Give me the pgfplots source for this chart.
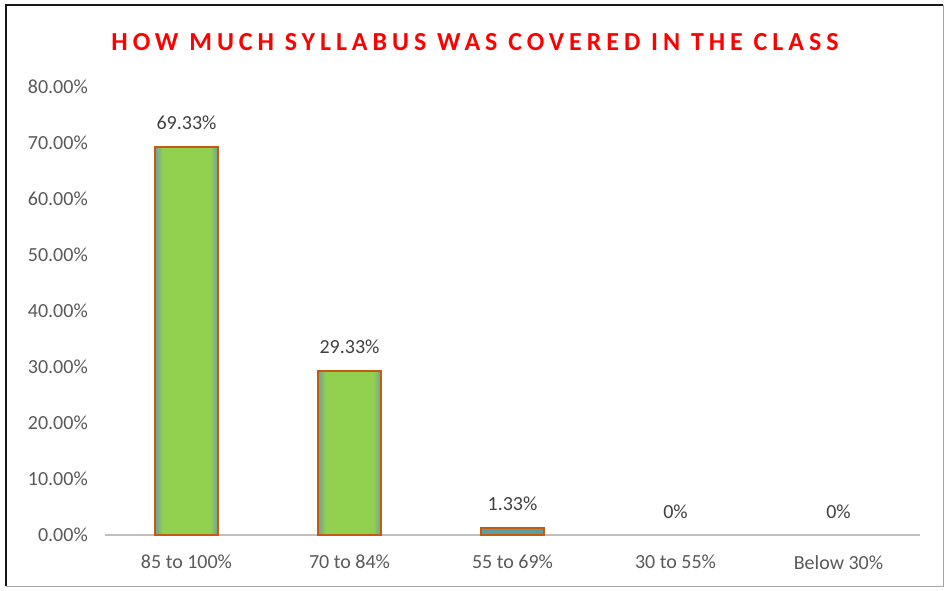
\documentclass[border=0pt]{standalone}
\usepackage{fontspec}
\setmainfont{Carlito}
\newfontfamily\titlefont[LetterSpace=19]{Carlito}
\usepackage{pgfplots}
\pgfplotsset{compat=1.18}
\definecolor{ticklab}{HTML}{595959}
\definecolor{datalab}{HTML}{404040}
\definecolor{bargreen}{HTML}{92D050}
\definecolor{baredge}{HTML}{6F9F9F}
\definecolor{barteal}{HTML}{5E9E9C}
\definecolor{barborder}{HTML}{C55A11}
\definecolor{axisgray}{HTML}{BFBFBF}
\pgfdeclarehorizontalshading{barshade}{100bp}{color(0bp)=(baredge); color(25bp)=(baredge); color(31bp)=(bargreen); color(69bp)=(bargreen); color(75bp)=(baredge); color(100bp)=(baredge)}
\begin{document}
\begin{tikzpicture}
\begin{axis}[
  scale only axis,
  width=815pt, height=448pt,
  xmin=-0.5, xmax=4.5, ymin=0, ymax=80,
  axis x line*=bottom, axis y line*=left,
  x axis line style={draw=axisgray, line width=2pt, -},
  y axis line style={draw=none},
  major tick length=0pt,
  xtick={0,1,2,3,4},
  xticklabels={85 to 100\%, 70 to 84\%, 55 to 69\%, 30 to 55\%, Below 30\%},
  ytick={0,10,...,80},
  /pgf/number format/assume math mode=true,
  yticklabel={\pgfmathprintnumber[fixed,fixed zerofill,precision=2]{\tick}\%},
  ticklabel style={font=\fontsize{20}{24}\selectfont, text=ticklab},
  yticklabel style={inner sep=0pt, xshift=-17pt},
  xticklabel style={inner sep=0pt, anchor=north, yshift=-20pt},
  ybar, bar width=63pt,
  point meta=explicit symbolic,
  nodes near coords,
  nodes near coords style={font=\fontsize{20}{24}\selectfont, text=datalab, anchor=south, inner sep=0pt, yshift=16pt},
  clip=false,
]
\addplot[bar shift=0pt, draw=barborder, line width=2pt, shading=barshade, shading angle=0]
  coordinates {(0,69.33) [69.33\%]};
\addplot[bar shift=0pt, draw=barborder, line width=2pt, shading=barshade, shading angle=0]
  coordinates {(1,29.33) [29.33\%]};
\addplot[bar shift=0pt, draw=barborder, line width=2pt, fill=barteal]
  coordinates {(2,1.33) [1.33\%]};
\addplot[bar shift=0pt, draw=none, fill=none]
  coordinates {(3,0) [0\%] (4,0) [0\%]};
\coordinate (O) at (rel axis cs:0,0);
\end{axis}
\pgfresetboundingbox
\begin{scope}[shift={(O)}, x=1pt, y=1pt]
\useasboundingbox (-105,-55) rectangle (841,535);
\draw[line width=1pt, gray!70] (838,530) -- (838,-51) -- (-99,-51);
\draw[line width=2.5pt, black!90] (-99,-51) -- (-99,530) -- (838,530);
\node[text=red, font=\titlefont\bfseries\fontsize{26}{30}\selectfont] at (370,493) {HOW MUCH SYLLABUS WAS COVERED IN THE CLASS};
\end{scope}
\end{tikzpicture}
\end{document}
